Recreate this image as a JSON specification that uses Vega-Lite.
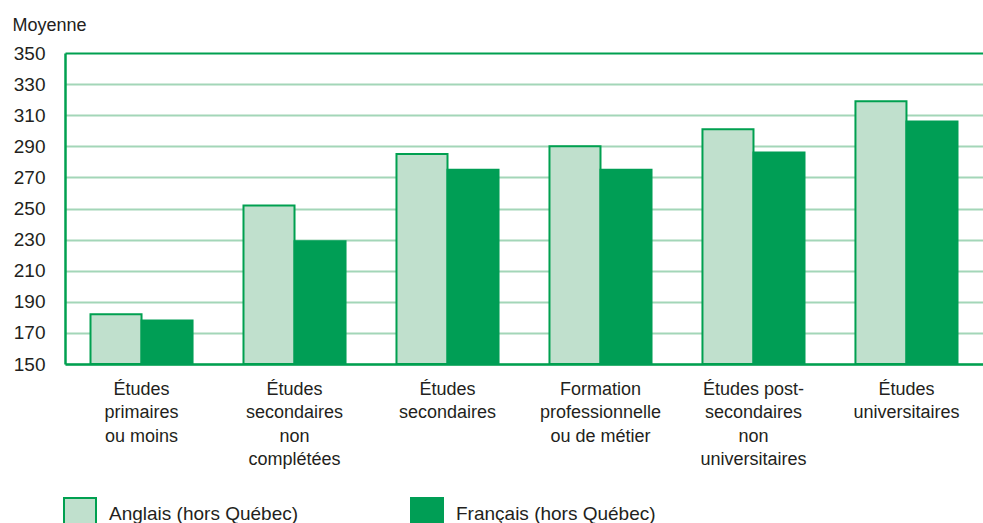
{
  "$schema": "https://vega.github.io/schema/vega-lite/v6.json",
  "width": 918,
  "height": 311,
  "autosize": {"type": "none"},
  "padding": {"left": 65, "top": 53, "right": 0, "bottom": 159},
  "background": "white",
  "config": {
    "font": "Liberation Sans Narrow, Liberation Sans, sans-serif",
    "view": {"stroke": null}
  },
  "data": {
    "values": [
      {"cat": "Études|primaires|ou moins", "group": "Anglais (hors Québec)", "value": 182},
      {"cat": "Études|primaires|ou moins", "group": "Français (hors Québec)", "value": 178},
      {"cat": "Études|secondaires|non|complétées", "group": "Anglais (hors Québec)", "value": 252},
      {"cat": "Études|secondaires|non|complétées", "group": "Français (hors Québec)", "value": 229},
      {"cat": "Études|secondaires", "group": "Anglais (hors Québec)", "value": 285},
      {"cat": "Études|secondaires", "group": "Français (hors Québec)", "value": 275},
      {"cat": "Formation|professionnelle|ou de métier", "group": "Anglais (hors Québec)", "value": 290},
      {"cat": "Formation|professionnelle|ou de métier", "group": "Français (hors Québec)", "value": 275},
      {"cat": "Études post-|secondaires|non|universitaires", "group": "Anglais (hors Québec)", "value": 301},
      {"cat": "Études post-|secondaires|non|universitaires", "group": "Français (hors Québec)", "value": 286},
      {"cat": "Études|universitaires", "group": "Anglais (hors Québec)", "value": 319},
      {"cat": "Études|universitaires", "group": "Français (hors Québec)", "value": 306}
    ]
  },
  "mark": {"type": "bar", "strokeWidth": 2},
  "encoding": {
    "x": {
      "field": "cat",
      "type": "nominal",
      "sort": null,
      "scale": {"paddingInner": 0.333, "paddingOuter": 0.1667},
      "axis": {
        "title": null,
        "labelAngle": 0,
        "labelExpr": "split(datum.label, '|')",
        "labelFontSize": 18,
        "labelColor": "#231f20",
        "labelLineHeight": 23.5,
        "labelBaseline": "top",
        "labelPadding": 16,
        "labelLimit": 0,
        "ticks": false,
        "domainColor": "#00a050",
        "domainWidth": 2.5
      }
    },
    "xOffset": {"field": "group", "type": "nominal", "sort": null},
    "y": {
      "field": "value",
      "type": "quantitative",
      "scale": {"domain": [150, 350], "nice": false, "zero": false},
      "axis": {
        "values": [150, 170, 190, 210, 230, 250, 270, 290, 310, 330, 350],
        "title": "Moyenne",
        "titleAngle": 0,
        "titleX": -53,
        "titleY": -23,
        "titleAlign": "left",
        "titleBaseline": "alphabetic",
        "titleFontSize": 18,
        "titleFontWeight": "normal",
        "titleColor": "#231f20",
        "labelFontSize": 19,
        "labelColor": "#231f20",
        "labelPadding": 20,
        "ticks": false,
        "domainColor": "#00a050",
        "domainWidth": 2.5,
        "grid": true,
        "gridColor": {"condition": {"test": "datum.value === 350", "value": "#00a050"}, "value": "#a3d6b8"},
        "gridWidth": 2
      }
    },
    "y2": {"datum": 150},
    "fill": {
      "field": "group",
      "type": "nominal",
      "scale": {"range": ["#c0e0cd", "#009e55"]},
      "legend": {
        "title": null,
        "orient": "none",
        "direction": "horizontal",
        "legendX": -2,
        "legendY": 444,
        "symbolType": "square",
        "symbolSize": 1024,
        "symbolStrokeWidth": 2,
        "labelFontSize": 19,
        "labelColor": "#231f20",
        "labelOffset": 12,
        "columnPadding": 108,
        "labelLimit": 0
      }
    },
    "stroke": {
      "field": "group",
      "type": "nominal",
      "scale": {"range": ["#00a050", "#009e55"]},
      "legend": {
        "title": null,
        "orient": "none",
        "direction": "horizontal",
        "legendX": -2,
        "legendY": 444,
        "symbolType": "square",
        "symbolSize": 1024,
        "symbolStrokeWidth": 2,
        "labelFontSize": 19,
        "labelColor": "#231f20",
        "labelOffset": 12,
        "columnPadding": 108,
        "labelLimit": 0
      }
    }
  }
}
